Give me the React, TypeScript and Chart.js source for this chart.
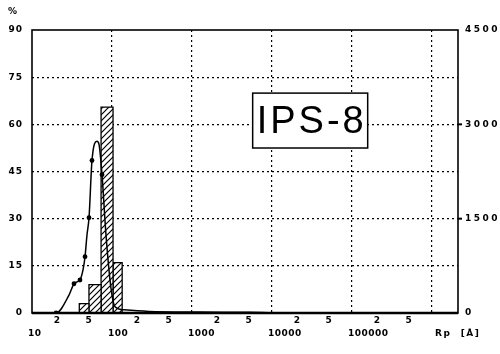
import React, { useEffect, useRef } from 'react';
import { Chart, registerables } from 'chart.js';

Chart.register(...registerables);

// ---- data ----
const binEdges = [39, 51.5, 73, 103, 134];
const binHeights = [3, 9, 65.5, 16];

const curveR = [10, 20, 29, 33.5, 36.5, 39.8, 43.4, 46, 48.7, 51.6, 56.2, 65, 68.8, 75, 84, 97, 109, 142, 290, 1220, 5200, 20000, 2110000];
const curveV = [0, 0, 285, 465, 495, 525, 685, 895, 1245, 1515, 2425, 2730, 2680, 2200, 1250, 400, 100, 50, 25, 15, 10, 0, 0];
const curveDots = [20, 33.5, 39.8, 46, 51.6, 56.2, 75];

const leftTicks = [0, 15, 30, 45, 60, 75, 90];
const rightTicks = [0, 1500, 3000, 4500];
const decadeTicks = [10, 100, 1000, 10000, 100000, 1000000];
const decadeLabels = ['10', '100', '1000', '10000', '100000'];
const minorMultipliers = [2, 5];
const boxLabel = 'IPS-8';
const yUnit = '%';
const xTitle = 'Rp  [Å]';

const LABEL_FONT = 'bold 9px "DejaVu Sans"';

const decor = {
  id: 'decor',
  afterDatasetsDraw(chart: any) {
    const { ctx, chartArea: a } = chart;
    const y1 = chart.scales.y1;
    ctx.save();
    ctx.strokeStyle = '#000';
    ctx.lineWidth = 1.6;
    ctx.strokeRect(a.left, a.top, a.right - a.left, a.bottom - a.top);
    ctx.lineWidth = 2.5;
    ctx.beginPath();
    ctx.moveTo(a.left, a.bottom);
    ctx.lineTo(a.right, a.bottom);
    ctx.stroke();
    // small outer ticks on right border
    ctx.lineWidth = 2;
    [1500, 3000].forEach((v) => {
      const py = y1.getPixelForValue(v);
      ctx.beginPath();
      ctx.moveTo(a.right, py);
      ctx.lineTo(a.right + 4, py);
      ctx.stroke();
    });
    // label box
    const w = a.right - a.left;
    const h = a.bottom - a.top;
    const bl = a.left + 0.518 * w;
    const br = a.left + 0.788 * w;
    const bt = a.top + 0.223 * h;
    const bb = a.top + 0.417 * h;
    ctx.fillStyle = '#fff';
    ctx.fillRect(bl, bt, br - bl, bb - bt);
    ctx.lineWidth = 1.5;
    ctx.strokeRect(bl, bt, br - bl, bb - bt);
    ctx.fillStyle = '#000';
    ctx.font = '38px "Liberation Sans"';
    (ctx as any).letterSpacing = '3px';
    ctx.textAlign = 'left';
    ctx.textBaseline = 'alphabetic';
    ctx.fillText(boxLabel, bl + 4, bb - 15);
    ctx.restore();
  },
  afterDraw(chart: any) {
    const { ctx, chartArea: a } = chart;
    const x = chart.scales.x;
    const y = chart.scales.y;
    const y1 = chart.scales.y1;
    ctx.save();
    ctx.fillStyle = '#000';
    ctx.font = LABEL_FONT;
    (ctx as any).letterSpacing = '1px';
    ctx.textBaseline = 'middle';
    // left ticks
    ctx.textAlign = 'right';
    leftTicks.forEach((v) => ctx.fillText(String(v), 23, y.getPixelForValue(v)));
    // unit
    ctx.textAlign = 'left';
    ctx.fillText(yUnit, 8, 12);
    // right ticks
    (ctx as any).letterSpacing = '2.5px';
    rightTicks.forEach((v) => ctx.fillText(String(v), a.right + 7, y1.getPixelForValue(v)));
    // x labels
    (ctx as any).letterSpacing = '0.5px';
    const row1 = a.bottom + 8;
    const row2 = a.bottom + 21;
    decadeLabels.forEach((lab, i) => {
      const d = decadeTicks[i];
      ctx.textAlign = 'left';
      ctx.fillText(lab, x.getPixelForValue(d) - 4, row2);
      minorMultipliers.forEach((m) => {
        ctx.textAlign = 'center';
        ctx.fillText(String(m), x.getPixelForValue(d * m) + 1, row1);
      });
    });
    // axis title
    (ctx as any).letterSpacing = '1.5px';
    ctx.textAlign = 'left';
    ctx.fillText(xTitle, a.right - 23, row2);
    ctx.restore();
  },
};

export default function App() {
  const ref = useRef<HTMLCanvasElement | null>(null);

  useEffect(() => {
    const canvas = ref.current!;
    const c2 = canvas.getContext('2d')!;
    const tile = document.createElement('canvas');
    const s = 6;
    tile.width = s;
    tile.height = s;
    const g = tile.getContext('2d')!;
    g.fillStyle = '#fff';
    g.fillRect(0, 0, s, s);
    g.strokeStyle = '#000';
    g.lineWidth = 1.2;
    g.beginPath();
    g.moveTo(0, s);
    g.lineTo(s, 0);
    g.moveTo(-1, 1);
    g.lineTo(1, -1);
    g.moveTo(s - 1, s + 1);
    g.lineTo(s + 1, s - 1);
    g.stroke();
    const hatch = c2.createPattern(tile, 'repeat');

    const curve = {
      data: curveR.map((r, i) => ({ x: r, y: curveV[i] })),
      yAxisID: 'y1',
      borderColor: '#000',
      borderWidth: 1.5,
      pointRadius: curveR.map((r) => (curveDots.includes(r) ? 2.4 : 0)),
      pointBackgroundColor: '#000',
      pointBorderWidth: 0,
      cubicInterpolationMode: 'monotone',
      fill: false,
    };
    const bars = binHeights.map((hgt, i) => ({
      data: [
        { x: binEdges[i], y: 0 },
        { x: binEdges[i], y: hgt },
        { x: binEdges[i + 1], y: hgt },
        { x: binEdges[i + 1], y: 0 },
      ],
      yAxisID: 'y',
      borderColor: '#000',
      borderWidth: 1.3,
      backgroundColor: hatch,
      fill: 'origin',
      pointRadius: 0,
      tension: 0,
    }));

    const chart = new Chart(canvas, {
      type: 'line',
      data: { datasets: [curve, ...bars] as any },
      options: {
        animation: false,
        responsive: false,
        devicePixelRatio: 1,
        layout: { padding: { top: 30, left: 0, right: 0, bottom: 0 } },
        plugins: { legend: { display: false }, tooltip: { enabled: false } },
        scales: {
          x: {
            type: 'logarithmic',
            min: 10,
            max: 2110000,
            afterBuildTicks: (sc: any) => {
              sc.ticks = decadeTicks.map((v) => ({ value: v }));
            },
            ticks: { display: false },
            grid: {
              color: (c: any) => (c.tick && c.tick.value > 10 ? '#000' : 'rgba(0,0,0,0)'),
              lineWidth: 1.2,
              drawTicks: false,
            },
            border: { display: false, dash: [2, 3] },
            afterFit: (sc: any) => {
              sc.height = 41;
            },
          },
          y: {
            min: 0,
            max: 90,
            afterBuildTicks: (sc: any) => {
              sc.ticks = leftTicks.map((v) => ({ value: v }));
            },
            ticks: { display: false },
            grid: {
              color: (c: any) => (c.tick && c.tick.value > 0 && c.tick.value < 90 ? '#000' : 'rgba(0,0,0,0)'),
              lineWidth: 1.2,
              drawTicks: false,
            },
            border: { display: false, dash: [2, 3] },
            afterFit: (sc: any) => {
              sc.width = 32;
            },
          },
          y1: {
            position: 'right',
            min: 0,
            max: 4500,
            ticks: { display: false },
            grid: { display: false },
            border: { display: false },
            afterFit: (sc: any) => {
              sc.width = 42;
            },
          },
        },
      } as any,
      plugins: [decor],
    });
    return () => chart.destroy();
  }, []);

  return (
    <div style={{ position: 'absolute', left: 0, top: 0, width: 500, height: 354, background: '#fff' }}>
      <canvas ref={ref} width={500} height={354} />
    </div>
  );
}
